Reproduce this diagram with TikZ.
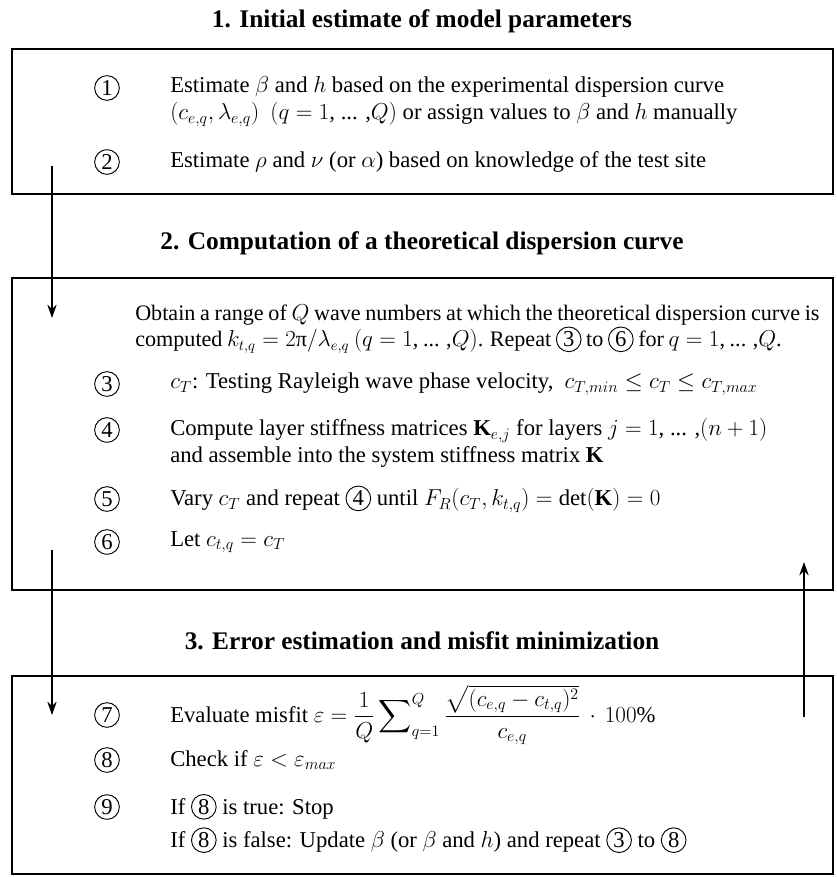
\documentclass[tikz,border=0pt]{standalone}
\usepackage{amsmath}
\usepackage{fontspec}
\setmainfont{Liberation Serif}
\DeclareMathSizes{17}{17}{11.5}{9}
\DeclareMathSizes{16.6}{16.6}{11.3}{9}
\usetikzlibrary{arrows.meta,positioning}
\tikzset{stepnum/.style={circle,draw,line width=0.7pt,inner sep=0pt,minimum size=18.5pt}}
\newcommand{\cstep}[1]{\tikz[baseline=(cs.base)]\node[stepnum] (cs) {#1};}
\newcommand{\tightsp}{\spaceskip=0.21em plus 0.1em\relax}

\begin{document}
\begin{tikzpicture}[x=0.75pt,y=-0.75pt,
    every node/.style={font=\fontsize{17}{20}\selectfont},
    panel/.style={line width=1.4pt},
    heading/.style={font=\fontsize{19}{22}\selectfont\bfseries},
    body/.style={anchor=west,align=left,inner sep=0pt},
    flow/.style={-{Stealth[length=10pt,width=7pt]},line width=1.2pt}
  ]
  \useasboundingbox (0,0) rectangle (836,877);
  % panel 1
  \node[heading] (h1) at (422,21) {1. Initial estimate of model parameters};
  \draw[panel] (12,49) rectangle (833,194);
  \node[stepnum] (s1) at (107,88) {1};
  \node[body] (t1) at (170,101.5) {Estimate $\beta$ and $h$ based on the experimental dispersion curve\\
    $(c_{e,q},\lambda_{e,q})$~~$(q=1$, ... ,$Q)$ or assign values to $\beta$ and $h$ manually};
  \node[stepnum] (s2) at (107,162) {2};
  \node[body] (t2) at (170,162) {Estimate $\rho$ and $\nu$ (or $\alpha$) based on knowledge of the test site};
  % panel 2
  \node[heading] (h2) at (422,243) {2. Computation of a theoretical dispersion curve};
  \draw[panel] (12,278) rectangle (833,590);
  \node[body,font=\fontsize{16.6}{19.5}\selectfont\tightsp] (t0) at (135,329)
    {Obtain a range of $Q$ wave numbers at which the theoretical dispersion curve is\\
    computed $k_{t,q}=2\mbox{π}/\lambda_{e,q}$ $(q=1$, ... ,$Q)$. Repeat \cstep{3} to \cstep{6} for $q=1$, ... ,$Q$.};
  \node[stepnum] (s3) at (107,384) {3};
  \node[body] (t3) at (170,384) {$c_T$: Testing Rayleigh wave phase velocity,~ $c_{T,min}\leq c_T\leq c_{T,max}$};
  \node[stepnum] (s4) at (107,430) {4};
  \node[body] (t4) at (170,443) {Compute layer stiffness matrices $\mathbf{K}_{e,j}$ for layers $j=1$, ... ,$(n+1)$\\
    and assemble into the system stiffness matrix $\mathbf{K}$};
  \node[stepnum] (s5) at (107,499) {5};
  \node[body] (t5) at (170,499) {Vary $c_T$ and repeat \cstep{4} until $F_R(c_T,k_{t,q})=\det(\mathbf{K})=0$};
  \node[stepnum] (s6) at (107,542) {6};
  \node[body] (t6) at (170,542) {Let $c_{t,q}=c_T$};
  % panel 3
  \node[heading] (h3) at (422,641) {3. Error estimation and misfit minimization};
  \draw[panel] (12,676) rectangle (833,874);
  \node[stepnum] (s7) at (107,715) {7};
  \node[body] (t7) at (170,715) {Evaluate misfit $\varepsilon=\dfrac{1}{Q}\displaystyle\sum\nolimits_{q=1}^{Q}
    \frac{\sqrt{(c_{e,q}-c_{t,q})^2}}{c_{e,q}}\,\cdot\,100\%$};
  \node[stepnum] (s8) at (107,760) {8};
  \node[body] (t8) at (170,760) {Check if $\varepsilon<\varepsilon_{max}$};
  \node[stepnum] (s9) at (107,807) {9};
  \node[body] (t9) at (170,823.5) {If \cstep{8} is true: Stop\\[5pt]
    If \cstep{8} is false: Update $\beta$ (or $\beta$ and $h$) and repeat \cstep{3} to \cstep{8}};
  % loop arrows
  \coordinate (a1) at (52,166);
  \coordinate (b1) at (52,318);
  \coordinate (a2) at (52,550);
  \coordinate (b2) at (52,715);
  \coordinate (a3) at (804,717);
  \coordinate (b3) at (804,562);
  \draw[flow] (a1) -- (b1);
  \draw[flow] (a2) -- (b2);
  \draw[flow] (a3) -- (b3);
\end{tikzpicture}
\end{document}
